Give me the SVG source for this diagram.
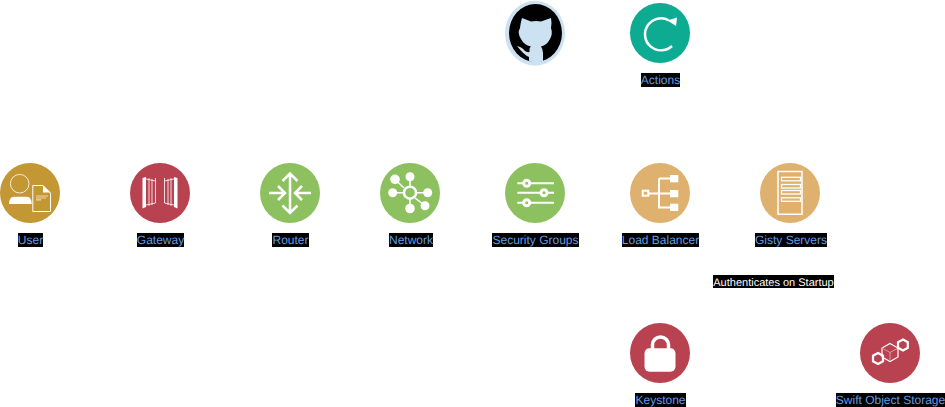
<svg xmlns="http://www.w3.org/2000/svg" width="945" height="407" viewBox="0 0 945 407">
<style>
.lb{fill:#000}
.t{font-family:"Liberation Sans",Arial,sans-serif;font-size:12px;text-anchor:middle;fill:#659fe6;opacity:.99;text-rendering:geometricPrecision}
.w{fill:#fff;font-size:11px}
.s{fill:none;stroke:#fff;stroke-width:1.5}
.s2{fill:none;stroke:#fff;stroke-width:2}
.s3{fill:none;stroke:#fff;stroke-width:2.500}
.thin{fill:none;stroke:#fff;stroke-width:.8}
.f{fill:#fff}
</style>
<rect width="945" height="407" fill="#fff"/>
<g id="connectors"/>
<g id="github">
<ellipse cx="535" cy="33.300" rx="30" ry="32.500" fill="#cce2f2"/>
<ellipse cx="535.500" cy="33" rx="26.500" ry="29" fill="#000"/>
<path d="M522 18L531 21.500Q536 20.500 541 21.500L551 18Q552 23 551 28Q553 34 550 39Q547 45 541 46.500Q543 49 543 53V61.500Q536 62.500 529 61.500V57Q524 55 517 46Q522 47 525 51Q527 52.500 529.500 52V49Q529.500 47.500 531 46.500Q524 45 521 39Q517 33 520 28Q520.500 23 522 18Z" fill="#cce2f2"/>
</g>
<g id="actions">
<circle cx="660" cy="33" r="30" fill="#0dab92"/>
<path d="M669 20.500A16 16 0 1 0 672 46" class="s3"/>
<path d="M667.500 20.500L677 17.500L676 26Z" class="f"/>
<rect class="lb" x="641" y="73" width="39" height="14"/>
<text class="t" x="660.500" y="84">Actions</text>
</g>
<g id="user">
<circle cx="30" cy="193" r="30" fill="#c39733"/>
<circle cx="19.700" cy="183.700" r="9.300" class="thin"/>
<path d="M9 204Q9 197 14 196.700L27 196.700Q31.700 197 31.700 204Z" class="f"/>
<path d="M32.800 185.500L43 185.500L50.500 193L50.500 211.500L32.800 211.500Z" fill="#c39733" stroke="#fff" stroke-width="1"/>
<path d="M43 185.500L43 192.500L50.500 192.500Z" class="f"/>
<path d="M36 196H48M36 198H46M36 199.800H41" stroke="#ecdcb5" stroke-width="1.200"/>
<rect class="lb" x="18" y="233" width="25" height="14"/>
<text class="t" x="30.500" y="244">User</text>
</g>
<g id="gateway">
<circle cx="160" cy="193" r="30" fill="#b94250"/>
<path d="M142.500 178L146 177L146 207L142.500 208.500Z" class="f"/>
<path d="M177.500 178L174 177L174 207L177.500 208.500Z" class="f"/>
<path d="M146 179L155.500 181M146 205L155.500 203M149 178V206M152 179V205M155.500 178V203M174 179L164.500 181M174 205L164.500 203M171 178V206M168 179V205M164.500 178V203" class="thin"/>
<rect class="lb" x="137" y="233" width="47" height="14"/>
<text class="t" x="160.500" y="244">Gateway</text>
</g>
<g id="router">
<circle cx="290" cy="193" r="30" fill="#8dc05f"/>
<path d="M290 173.500V213M282.500 181L290 173.500L297.500 181M282.500 205.500L290 213L297.500 205.500M269 193H284M278 186L285 193L278 200M311 193H296M302 186L295 193L302 200" class="s3"/>
<rect class="lb" x="272" y="233" width="37" height="14"/>
<text class="t" x="290.500" y="244">Router</text>
</g>
<g id="network">
<circle cx="410" cy="193" r="30" fill="#8dc05f"/>
<path d="M395 179.300L404 188M410 176.700V186M392.700 192.700H403M427.700 192.700H417M410 199V208.300M415 198L425 205.700" class="s"/>
<circle cx="410" cy="192.700" r="6" fill="none" stroke="#fff" stroke-width="2.500"/>
<circle cx="395" cy="179.300" r="4.800" class="f"/>
<circle cx="410" cy="176.700" r="4.500" class="f"/>
<circle cx="392.700" cy="192.700" r="4.500" class="f"/>
<circle cx="427.700" cy="192.700" r="4.500" class="f"/>
<circle cx="410" cy="208.500" r="4.800" class="f"/>
<circle cx="425" cy="205.700" r="4.500" class="f"/>
<rect class="lb" x="389" y="233" width="44" height="14"/>
<text class="t" x="411" y="244">Network</text>
</g>
<g id="security-groups">
<circle cx="535" cy="193" r="30" fill="#8dc05f"/>
<path d="M517.300 183.300H554M517.300 192.800H554M517.300 202.800H554" class="s2"/>
<circle cx="526.700" cy="183.300" r="3" fill="#8dc05f" stroke="#fff" stroke-width="3"/>
<circle cx="544" cy="192.800" r="3" fill="#8dc05f" stroke="#fff" stroke-width="3"/>
<circle cx="526.700" cy="202.800" r="3" fill="#8dc05f" stroke="#fff" stroke-width="3"/>
<rect class="lb" x="492" y="233" width="87" height="14"/>
<text class="t" x="535.500" y="244">Security Groups</text>
</g>
<g id="load-balancer">
<circle cx="660" cy="193" r="30" fill="#dfb16e"/>
<rect x="642.700" y="190.700" width="5.600" height="5" fill="none" stroke="#fff" stroke-width="2"/>
<path d="M649 193.500H671M659 178.500V207.500H671M659 178.500H671" class="s2"/>
<rect x="670" y="175" width="8.300" height="7.300" class="f"/>
<rect x="670" y="190" width="8.300" height="7.300" class="f"/>
<rect x="670" y="203.700" width="8.300" height="7.300" class="f"/>
<rect class="lb" x="622" y="233" width="77" height="14"/>
<text class="t" x="660.500" y="244">Load Balancer</text>
</g>
<g id="gisty-servers">
<circle cx="790" cy="193" r="30" fill="#dfb16e"/>
<path d="M778 171.500H802V214.300H778Z" class="s"/>
<rect x="781.500" y="177.300" width="19" height="3.500" fill="none" stroke="#fff" stroke-width="1.300"/>
<rect x="781.500" y="184.500" width="19" height="3.500" fill="none" stroke="#fff" stroke-width="1.300"/>
<rect x="781.500" y="190.500" width="19" height="3.500" fill="none" stroke="#fff" stroke-width="1.300"/>
<rect x="781.500" y="197.800" width="19" height="3.500" fill="none" stroke="#fff" stroke-width="1.300"/>
<rect class="lb" x="755" y="233" width="72" height="14"/>
<text class="t" x="791" y="244">Gisty Servers</text>
</g>
<g id="edge-label">
<rect class="lb" x="713" y="275" width="121" height="13"/>
<text class="t w" x="773.500" y="286">Authenticates on Startup</text>
</g>
<g id="keystone">
<circle cx="660" cy="353" r="30" fill="#b94250"/>
<path d="M652.500 350V345A8 8 0 0 1 668.500 345V350" fill="none" stroke="#fff" stroke-width="3.500"/>
<rect x="644.500" y="348.300" width="31" height="23.400" rx="5" class="f"/>
<rect class="lb" x="635" y="393" width="51" height="14"/>
<text class="t" x="660.500" y="404">Keystone</text>
</g>
<g id="swift">
<circle cx="890" cy="353" r="30" fill="#b94250"/>
<path d="M890 343.500L898 348V357L890 361.500L882 357V348Z" fill="none" stroke="#fff" stroke-width="1.200"/>
<path d="M882 348L890 352.500L898 348M890 352.500V361" fill="none" stroke="#dc9aa3" stroke-width="1"/>
<path d="M903 339.500L907.800 342.200V347.800L903 350.500L898 347.800V342.200Z" fill="none" stroke="#fff" stroke-width="2.200"/>
<path d="M878 353L883 355.700V361.300L878 364L873 361.300V355.700Z" fill="none" stroke="#fff" stroke-width="2.200"/>
<rect class="lb" x="836" y="393" width="109" height="14"/>
<text class="t" x="890.500" y="404">Swift Object Storage</text>
</g>
</svg>
